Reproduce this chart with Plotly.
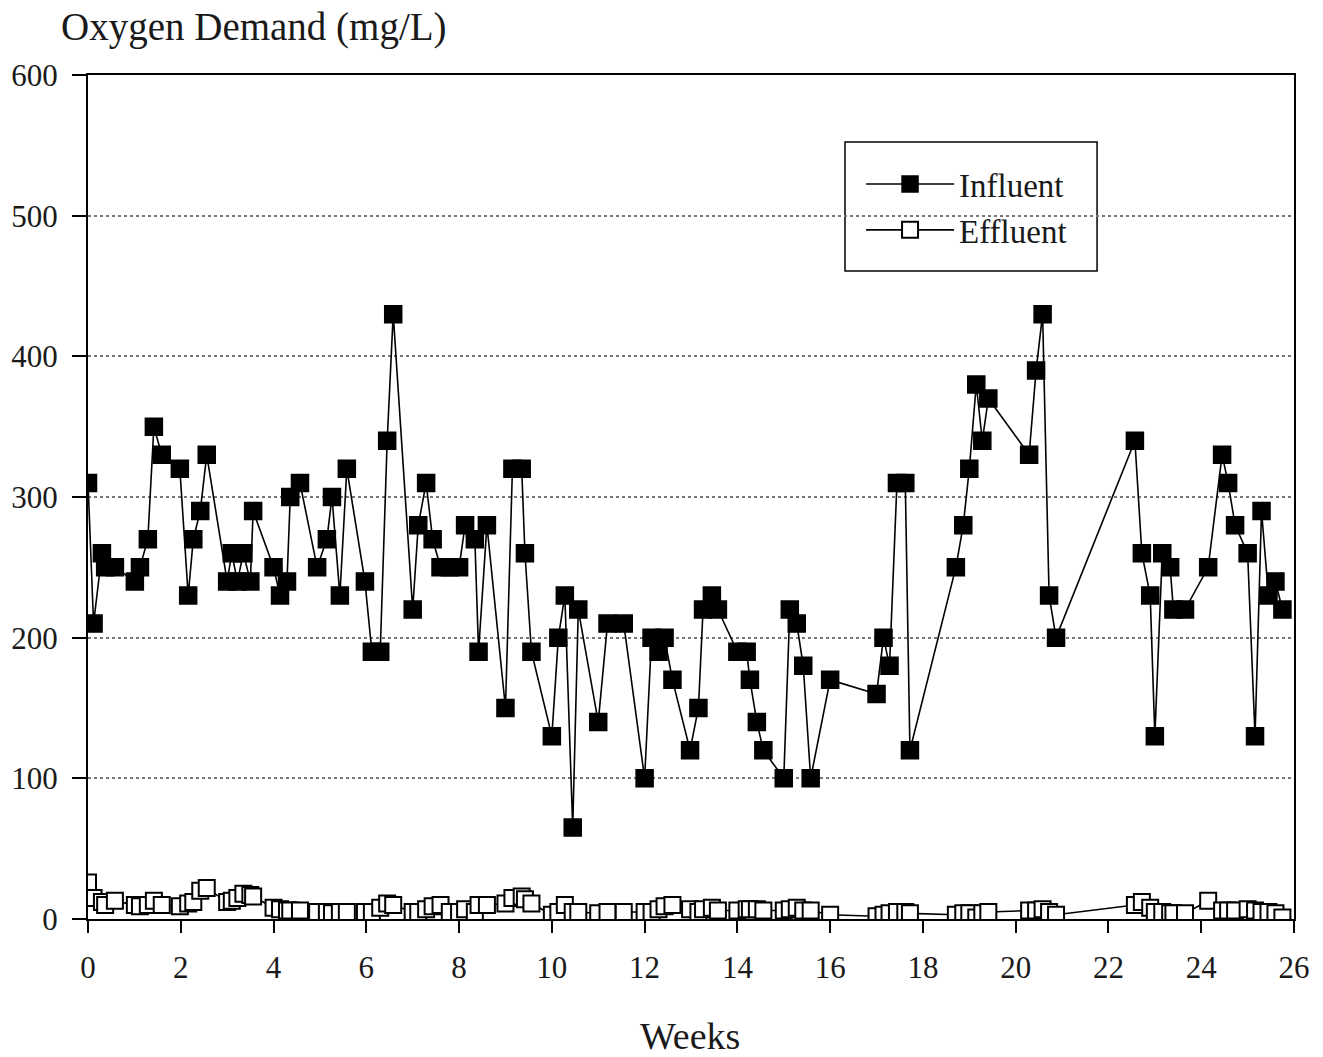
import plotly.graph_objects as go

# Sampling times (weeks) shared by both series
weeks = [
    0.00, 0.12, 0.30, 0.37, 0.58, 1.01, 1.12, 1.29, 1.42, 1.59,
    1.98, 2.16, 2.27, 2.42, 2.56, 3.00, 3.10, 3.22, 3.35, 3.50,
    3.56, 4.00, 4.14, 4.29, 4.36, 4.57, 4.94, 5.15, 5.26, 5.43,
    5.58, 5.97, 6.12, 6.30, 6.45, 6.58, 7.00, 7.12, 7.29, 7.43,
    7.60, 7.80, 8.00, 8.13, 8.34, 8.42, 8.60, 9.00, 9.15, 9.35,
    9.42, 9.56, 10.00, 10.14, 10.28, 10.45, 10.57, 11.00, 11.20, 11.55,
    12.00, 12.15, 12.30, 12.43, 12.60, 12.98, 13.16, 13.26, 13.45, 13.58,
    14.00, 14.20, 14.27, 14.42, 14.56, 15.00, 15.13, 15.28, 15.42, 15.58,
    16.00, 17.00, 17.15, 17.28, 17.44, 17.62, 17.72, 18.71, 18.87, 19.00,
    19.15, 19.28, 19.41, 20.29, 20.44, 20.58, 20.72, 20.87, 22.57, 22.72,
    22.90, 23.00, 23.16, 23.33, 23.40, 23.65, 24.15, 24.45, 24.58, 24.73,
    25.00, 25.16, 25.30, 25.45, 25.60, 25.75,
]

# Influent oxygen demand (mg/L)
influent = [
    310, 210, 260, 250, 250, 240, 250, 270, 350, 330,
    320, 230, 270, 290, 330, 240, 260, 240, 260, 240,
    290, 250, 230, 240, 300, 310, 250, 270, 300, 230,
    320, 240, 190, 190, 340, 430, 220, 280, 310, 270,
    250, 250, 250, 280, 270, 190, 280, 150, 320, 320,
    260, 190, 130, 200, 230, 65, 220, 140, 210, 210,
    100, 200, 190, 200, 170, 120, 150, 220, 230, 220,
    190, 190, 170, 140, 120, 100, 220, 210, 180, 100,
    170, 160, 200, 180, 310, 310, 120, 250, 280, 320,
    380, 340, 370, 330, 390, 430, 230, 200, 340, 260,
    230, 130, 260, 250, 220, 220, 250, 330, 310, 280,
    260, 130, 290, 230, 240, 220,
]

# Effluent oxygen demand (mg/L)
effluent = [
    26, 15, 12, 10, 13, 10, 9, 10, 13, 10,
    9, 11, 12, 20, 22, 12, 13, 15, 18, 17,
    16, 8, 7, 6, 6, 6, 5, 5, 4, 5,
    5, 5, 5, 8, 11, 10, 5, 5, 7, 9,
    10, 5, 5, 7, 5, 10, 10, 11, 15, 16,
    14, 11, 3, 5, 10, 5, 5, 4, 5, 5,
    5, 5, 7, 9, 10, 7, 5, 7, 8, 6,
    6, 7, 7, 7, 6, 6, 7, 8, 6, 6,
    3, 2, 3, 4, 5, 5, 4, 3, 4, 4,
    1, 4, 5, 6, 6, 7, 5, 3, 10, 12,
    8, 5, 5, 4, 4, 4, 13, 6, 6, 6,
    7, 6, 5, 5, 4, 1,
]

x_ticks = list(range(0, 27, 2))
y_ticks = [0, 100, 200, 300, 400, 500, 600]

SERIF = "Liberation Serif, Times New Roman, serif"
INK = "#1a1a1a"

fig = go.Figure()

fig.add_trace(go.Scatter(
    x=weeks, y=influent, name="Influent", mode="lines+markers",
    line=dict(color="black", width=1.6),
    marker=dict(symbol="square", size=17, color="black",
                line=dict(color="black", width=1.5)),
))

fig.add_trace(go.Scatter(
    x=weeks, y=effluent, name="Effluent", mode="lines+markers",
    line=dict(color="black", width=1.6),
    marker=dict(symbol="square", size=16, color="white",
                line=dict(color="black", width=2)),
))

fig.update_layout(
    width=1323, height=1057,
    margin=dict(l=88, r=29, t=75, b=138),
    paper_bgcolor="white", plot_bgcolor="white",
    font=dict(family=SERIF, size=31, color=INK),
    showlegend=True,
    legend=dict(
        x=0.641, y=0.904, xanchor="left", yanchor="top",
        borderwidth=0, bgcolor="rgba(0,0,0,0)",
        font=dict(family=SERIF, size=33, color=INK),
        itemwidth=88,
        tracegroupgap=0,
    ),
    shapes=[
        # frame around the legend
        dict(type="rect", xref="paper", yref="paper",
             x0=0.6277, x1=0.8367, y0=0.7678, y1=0.9206,
             line=dict(color="black", width=1.5),
             fillcolor="white", layer="below"),
    ],
    annotations=[
        dict(text="Oxygen Demand (mg/L)", xref="paper", yref="paper",
             x=-0.024, y=1.057, xanchor="left", yanchor="middle",
             showarrow=False, font=dict(family=SERIF, size=39, color=INK)),
        dict(text="Weeks", xref="paper", yref="paper",
             x=0.499, y=-0.139, xanchor="center", yanchor="middle",
             showarrow=False, font=dict(family=SERIF, size=38, color=INK)),
    ],
)

fig.update_xaxes(
    range=[0, 26], tickmode="array", tickvals=x_ticks,
    ticks="outside", ticklen=12, tickwidth=2, tickcolor="black",
    ticklabelstandoff=8,
    showline=True, linecolor="black", linewidth=2, mirror=True,
    showgrid=False, zeroline=False,
)

fig.update_yaxes(
    range=[0, 600], tickmode="array", tickvals=y_ticks,
    ticks="outside", ticklen=14, tickwidth=2, tickcolor="black",
    ticklabelstandoff=8,
    showline=True, linecolor="black", linewidth=2, mirror=True,
    showgrid=True, gridcolor="#777", gridwidth=1.5, griddash="dot",
    zeroline=False,
)

fig.write_html("out.html")
